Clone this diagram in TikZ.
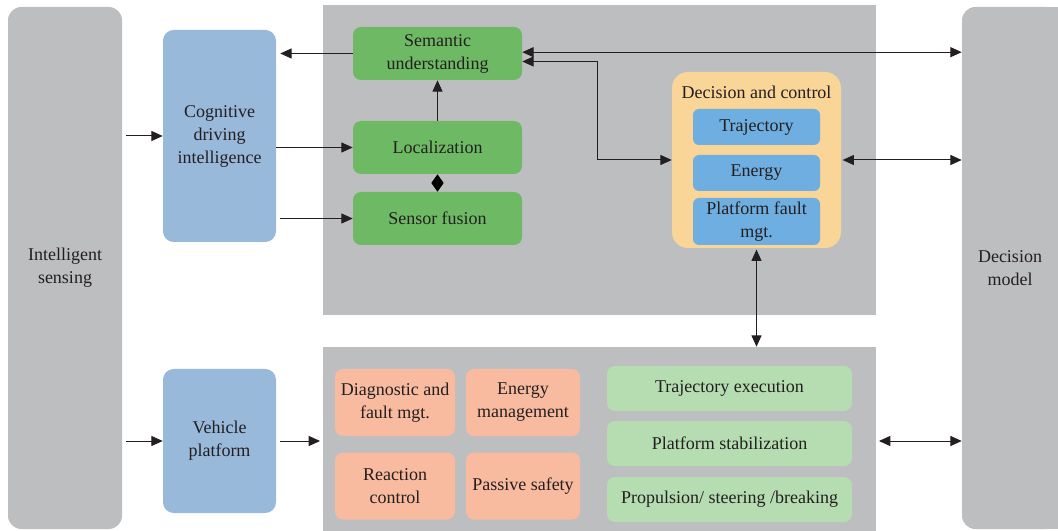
\documentclass[tikz,border=0pt]{standalone}
\usepackage{fontspec}
\setmainfont{Liberation Serif}
\usetikzlibrary{arrows.meta}
\definecolor{panelgray}{HTML}{BDBEC0}
\definecolor{softblue}{HTML}{99B9DB}
\definecolor{leafgreen}{HTML}{6EBA64}
\definecolor{paleorange}{HTML}{F9D597}
\definecolor{skyblue}{HTML}{6FAEE0}
\definecolor{salmon}{HTML}{F9BBA0}
\definecolor{mintgreen}{HTML}{B6DCB1}
\definecolor{inkdark}{HTML}{231F20}
\begin{document}
\begin{tikzpicture}[x=0.75pt,y=-0.75pt,
  font=\fontsize{13.5}{17.25}\selectfont, text=inkdark,
  box/.style={rounded corners=6pt, inner sep=1pt, align=center},
  side/.style={box, fill=panelgray, rounded corners=10pt, minimum width=85.5pt, minimum height=391.5pt},
  panel/.style={fill=panelgray, minimum width=414.75pt},
  cogbox/.style={box, fill=softblue, rounded corners=8pt, minimum width=84.75pt},
  greenbox/.style={box, fill=leafgreen, minimum width=126.75pt, minimum height=39.75pt},
  bluebox/.style={box, fill=skyblue, rounded corners=4.5pt, minimum width=95.25pt},
  salmonbox/.style={box, fill=salmon, minimum height=50.25pt},
  mintbox/.style={box, fill=mintgreen, minimum width=183.75pt, minimum height=33.75pt},
  tip/.tip={Triangle[length=8.5pt,width=7.5pt]},
  arr/.style={-tip, line width=0.75pt, draw=inkdark},
  dbl/.style={tip-tip, line width=0.75pt, draw=inkdark}]
\clip (0,0) rectangle (1058,531);

% side columns
\node[side] (ls) at (65,268) {Intelligent\\sensing};
\fill[panelgray] (1030,7) rectangle (1058,529);
\node[side, minimum width=72pt] (dm) at (1010,268) {Decision\\model};

% grey panels
\node[panel, minimum height=232.5pt] (top) at (599.5,160) {};
\node[panel, minimum height=141pt] (bot) at (599.5,441) {};

% blue blocks
\node[cogbox, minimum height=159pt] (cog) at (219.5,136) {Cognitive\\driving\\intelligence};
\node[cogbox, minimum height=108pt] (vp) at (219.5,441) {Vehicle\\platform};

% perception chain
\node[greenbox] (sem) at (437.5,53.5) {Semantic\\understanding};
\node[greenbox] (loc) at (437.5,147.5) {Localization};
\node[greenbox] (sf) at (437.5,218.5) {Sensor fusion};

% decision and control
\node[box, fill=paleorange, rounded corners=12pt, minimum width=126.75pt, minimum height=132pt] (dc) at (756.5,160) {};
\node (dct) at (756.5,92) {Decision and control};
\node[bluebox, minimum height=27pt] (traj) at (756.5,127) {Trajectory};
\node[bluebox, minimum height=27pt] (en) at (756.5,173) {Energy};
\node[bluebox, minimum height=35.25pt] (pf) at (756.5,221.5) {Platform fault\\mgt.};

% vehicle platform functions
\node[salmonbox, minimum width=90pt] (diag) at (395,402.5) {Diagnostic and\\fault mgt.};
\node[salmonbox, minimum width=85.5pt] (em) at (523,402.5) {Energy\\management};
\node[salmonbox, minimum width=90pt] (rc) at (395,486) {Reaction\\control};
\node[salmonbox, minimum width=85.5pt] (ps) at (523,486) {Passive safety};
\node[mintbox] (te) at (729.5,388.5) {Trajectory execution};
\node[mintbox] (pst) at (729.5,443.5) {Platform stabilization};
\node[mintbox] (prop) at (729.5,499.5) {Propulsion/ steering /breaking};

% connectors
\draw[arr, shorten <=3pt] (ls.east |- cog.west) -- (cog.west);
\draw[arr, shorten <=3pt] (ls.east |- vp.west) -- (vp.west);
\draw[arr, shorten <=3pt, shorten >=2pt] (vp.east) -- (bot.west |- vp.east);
\draw[arr, shorten >=3pt] (sem.west) -- (cog.east |- sem.west);
\draw[arr] (cog.east |- loc.west) -- (loc.west);
\draw[arr, shorten <=3pt] (cog.east |- sf.west) -- (sf.west);
\draw[arr] (loc.north) -- (sem.south);
\draw[{Triangle[length=6.5pt,width=9pt]}-{Triangle[length=6.5pt,width=9pt]}, line width=0.75pt] (loc.south) -- (sf.north);
\draw[dbl] ([yshift=1pt]sem.east) -- ([yshift=1pt]dm.west |- sem.east);
\coordinate (bend) at (597,160);
\draw[dbl] ([yshift=-6pt]sem.east) -| (bend) -- (dc.west);
\draw[dbl, shorten <=1pt] (dc.east) -- (dm.west |- dc.east);
\draw[dbl, shorten <=1pt] (dc.south) -- (dc.south |- bot.north);
\draw[dbl, shorten <=2pt] (bot.east) -- (dm.west |- bot.east);
\end{tikzpicture}
\end{document}
